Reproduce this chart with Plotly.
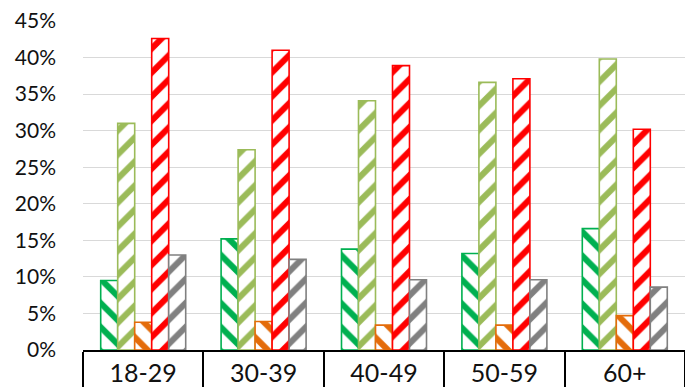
import plotly.graph_objects as go

categories = ["18-29", "30-39", "40-49", "50-59", "60+"]
series_a = [9.5, 15.2, 13.8, 13.2, 16.6]
series_b = [31.0, 27.4, 34.1, 36.6, 39.8]
series_c = [3.8, 3.9, 3.4, 3.4, 4.7]
series_d = [42.6, 41.0, 38.9, 37.1, 30.2]
series_e = [13.0, 12.4, 9.6, 9.6, 8.6]
tick_vals = [0, 5, 10, 15, 20, 25, 30, 35, 40, 45]
tick_text = [f"{v}%" for v in tick_vals]

series = [
    (series_a, "#00B050", "\\"),
    (series_b, "#9BBB59", "/"),
    (series_c, "#E46C0A", "\\"),
    (series_d, "#FF0000", "/"),
    (series_e, "#808080", "/"),
]

fig = go.Figure()
for vals, col, shp in series:
    fig.add_trace(go.Bar(
        x=categories, y=vals,
        marker=dict(
            color="white",
            line=dict(color=col, width=1.6),
            pattern=dict(shape=shp, fgcolor=col, bgcolor="white",
                         size=17, solidity=0.36, fillmode="replace"),
        ),
        showlegend=False,
    ))

fig.update_layout(
    width=685, height=387,
    margin=dict(l=83, r=0, t=21, b=37),
    paper_bgcolor="white", plot_bgcolor="white",
    barmode="group", bargap=0.294, bargroupgap=0,
    font=dict(family="Lato", color="#111111"),
)
fig.update_yaxes(
    range=[0, 45], tickvals=tick_vals, ticktext=tick_text,
    showgrid=True, gridcolor="#D9D9D9", gridwidth=1.3,
    zeroline=False, showline=False, ticks="",
    tickfont=dict(size=21), ticklabelstandoff=26, automargin=False,
)
fig.update_xaxes(
    showline=True, linecolor="black", linewidth=1.5,
    ticks="outside", tickson="boundaries", ticklen=45,
    tickcolor="black", tickwidth=1.5,
    tickfont=dict(size=25), ticklabelstandoff=0, automargin=False,
    showgrid=False,
)

fig.write_html(
    "out.html",
    config={"displayModeBar": False},
    post_script="document.body.style.margin='0';document.body.style.overflow='hidden';",
)
